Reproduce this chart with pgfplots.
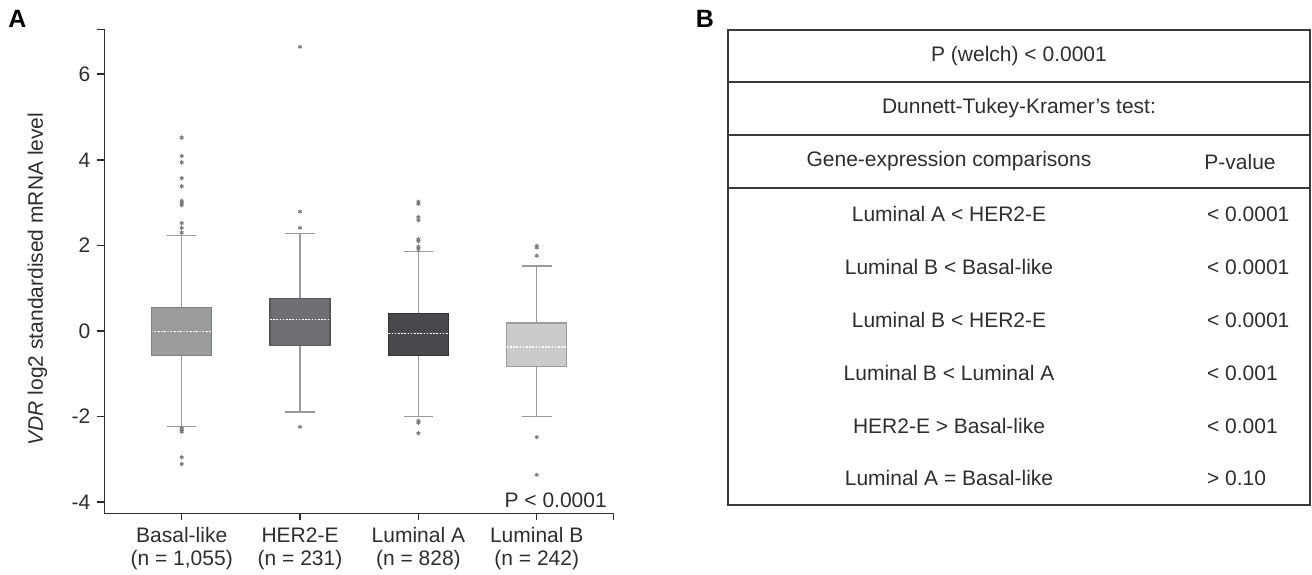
\documentclass[border=0pt]{standalone}
\usepackage{pgfplots}
\pgfplotsset{compat=1.18}
\usepgfplotslibrary{statistics}
\usepackage{fontspec}
\setmainfont{Liberation Sans}
\definecolor{axisc}{HTML}{2E2E2E}
\definecolor{whisk}{HTML}{9A9A9A}
\definecolor{basalF}{HTML}{9B9C9E}
\definecolor{basalD}{HTML}{7E7F81}
\definecolor{herF}{HTML}{6F7073}
\definecolor{herD}{HTML}{56575A}
\definecolor{lumaF}{HTML}{48494C}
\definecolor{lumaD}{HTML}{303133}
\definecolor{lumbF}{HTML}{CACBCD}
\definecolor{lumbD}{HTML}{9A9B9D}
\definecolor{outl}{HTML}{7A7A7A}
\definecolor{tabc}{HTML}{3A3A3A}
\begin{document}
\begin{tikzpicture}[x=1pt,y=1pt,font=\fontsize{10.5}{11.7}\selectfont]
\useasboundingbox (0,0) rectangle (656,287);
\begin{axis}[
  at={(52.15pt,30.35pt)}, anchor=south west,
  scale only axis, width=254.5pt, height=242pt,
  xmin=-0.654, xmax=3.647, ymin=-4.26, ymax=7.05,
  axis x line=bottom, axis y line=left,
  axis line style={axisc, line width=0.75pt, -},
  xtick={0,1,2,3},
  xticklabels={{Basal-like\\(n = 1,055)},{HER2-E\\(n = 231)},{Luminal A\\(n = 828)},{Luminal B\\(n = 242)}},
  x tick label style={align=center, font=\fontsize{10.5}{11.7}\selectfont, text=axisc},
  y tick label style={font=\fontsize{10.5}{11.7}\selectfont, text=axisc},
  ytick={-4,-2,0,2,4,6}, yticklabels={-4,-2,0,2,4,6},
  extra x ticks={3.647}, extra x tick labels={},
  extra y ticks={7.05}, extra y tick labels={},
  extra tick style={major tick length=3.5pt, tick style={axisc, line width=0.75pt}},
  tick align=outside, major tick length=3.5pt,
  tick style={axisc, line width=0.75pt},
  /pgf/number format/assume math mode=true,
  boxplot/draw direction=y,
  boxplot/every whisker/.style={whisk, line width=0.6pt},
  boxplot/every median/.style={white, line width=0.6pt, dash pattern=on 0.8pt off 0.8pt},
  clip=false,
]
% Basal-like
\addplot[boxplot prepared={draw position=0, median=-0.016, upper quartile=0.554, lower quartile=-0.568,
  upper whisker=2.227, lower whisker=-2.236, box extend=0.507, whisker extend=0.25},
  draw=basalD, fill=basalF, line width=0.75pt,
  mark=asterisk, mark size=1.1pt, mark options={outl, solid, line width=0.45pt}]
  table[row sep=\\, y index=0]{y\\4.52\\4.09\\3.94\\3.57\\3.38\\3.04\\2.99\\2.94\\2.52\\2.41\\2.30\\-2.27\\-2.31\\-2.35\\-2.95\\-3.11\\};
% HER2-E
\addplot[boxplot prepared={draw position=1, median=0.264, upper quartile=0.755, lower quartile=-0.343,
  upper whisker=2.283, lower whisker=-1.893, box extend=0.507, whisker extend=0.25},
  draw=herD, fill=herF, line width=0.75pt,
  mark=asterisk, mark size=1.1pt, mark options={outl, solid, line width=0.45pt}]
  table[row sep=\\, y index=0]{y\\6.64\\2.79\\2.41\\-2.24\\};
% Luminal A
\addplot[boxplot prepared={draw position=2, median=-0.054, upper quartile=0.413, lower quartile=-0.577,
  upper whisker=1.853, lower whisker=-2.0, box extend=0.507, whisker extend=0.25},
  draw=lumaD, fill=lumaF, line width=0.75pt,
  mark=asterisk, mark size=1.1pt, mark options={outl, solid, line width=0.45pt}]
  table[row sep=\\, y index=0]{y\\3.02\\2.97\\2.66\\2.59\\2.14\\2.10\\1.97\\1.91\\-2.10\\-2.14\\-2.39\\};
% Luminal B
\addplot[boxplot prepared={draw position=3, median=-0.374, upper quartile=0.190, lower quartile=-0.830,
  upper whisker=1.519, lower whisker=-2.0, box extend=0.507, whisker extend=0.25},
  draw=lumbD, fill=lumbF, line width=0.75pt,
  mark=asterisk, mark size=1.1pt, mark options={outl, solid, line width=0.45pt}]
  table[row sep=\\, y index=0]{y\\1.99\\1.95\\1.76\\-2.48\\-3.36\\};
\node[anchor=base east, inner sep=0pt, text=axisc] at (rel axis cs:0.988,0.013) {P < 0.0001};
\end{axis}
\node[rotate=90, text=axisc] at (18.75,147.5) {\textit{VDR} log2 standardised mRNA level};
\node[font=\bfseries\fontsize{12.5}{14}\selectfont, text=black] at (8.75,277.5) {A};
\node[font=\bfseries\fontsize{12.5}{14}\selectfont, text=black] at (352.5,277.5) {B};
% Table B
\draw[tabc, line width=0.75pt] (364,34.5) rectangle (655,272);
\draw[tabc, line width=0.75pt] (364,246) -- (655,246) (364,219.5) -- (655,219.5) (364,193) -- (655,193);
\begin{scope}[every node/.style={text=axisc}]
\node at (509.5,259) {P (welch) < 0.0001};
\node at (509.5,232.75) {Dunnett-Tukey-Kramer’s test:};
\node at (474.5,206.25) {Gene-expression comparisons};
\node at (620,206.25) {P-value};
\node at (474.5,180) {Luminal A < HER2-E};
\node at (474.5,153.5) {Luminal B < Basal-like};
\node at (474.5,127) {Luminal B < HER2-E};
\node at (474.5,100.5) {Luminal B < Luminal A};
\node at (474.5,74) {HER2-E > Basal-like};
\node at (474.5,48) {Luminal A = Basal-like};
\node[anchor=west] at (600,180) {< 0.0001};
\node[anchor=west] at (600,153.5) {< 0.0001};
\node[anchor=west] at (600,127) {< 0.0001};
\node[anchor=west] at (600,100.5) {< 0.001};
\node[anchor=west] at (600,74) {< 0.001};
\node[anchor=west] at (600,48) {> 0.10};
\end{scope}
\end{tikzpicture}
\end{document}
